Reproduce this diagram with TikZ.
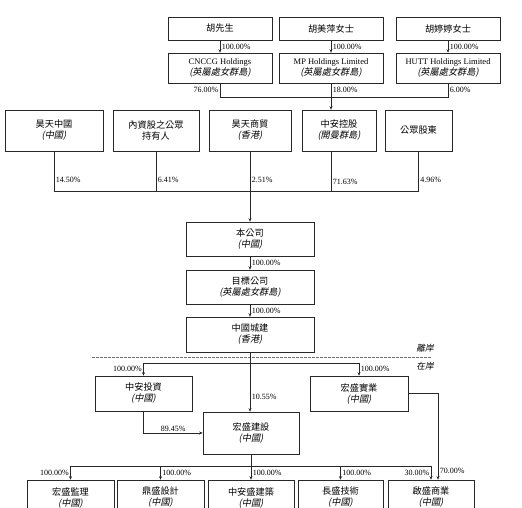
\documentclass[tikz,border=0pt]{standalone}
\usepackage{fontspec}
\setmainfont{Liberation Serif}
\newfontfamily\cjk[Scale=1.08]{Noto Sans CJK TC}
\newfontfamily\cjkit[Scale=1.08, FakeSlant=0.2]{Noto Sans CJK TC}
\usetikzlibrary{arrows.meta, positioning, calc}
\definecolor{mydark}{RGB}{40,40,40}
\definecolor{mygray}{RGB}{110,110,110}
\newcommand{\zh}[1]{{\cjk #1}}
\newcommand{\zhloc}[1]{{\cjkit (#1)}}
\tikzset{
  entity/.style={rectangle, draw=mydark, line width=0.6pt, inner sep=1pt,
    align=center, font=\fontsize{8.5}{11}\selectfont},
  toprow/.style={entity, minimum width=104, minimum height=23},
  holdrow/.style={entity, minimum width=104, minimum height=30},
  midbox/.style={entity, minimum height=41},
  mainbox/.style={entity, minimum width=128, minimum height=34},
  subbox/.style={entity, minimum height=35},
  pct/.style={font=\fontsize{8}{9}\selectfont, inner sep=1.5pt},
  side/.style={font=\cjkit\fontsize{8}{9}\selectfont, inner sep=0pt},
  link/.style={draw=mydark, line width=0.5pt},
  arrow/.style={link, -{Stealth[length=3.5pt, width=3pt]}}
}
\begin{document}
\begin{tikzpicture}[x=1pt, y=-1pt]
  \useasboundingbox (0,0) rectangle (522,507);
  \clip (0,0) rectangle (522,507);

  % Founders
  \node[toprow] (hu) at (220,28.5) {\zh{胡先生}};
  \node[toprow] (mei) at (331,28.5) {\zh{胡美萍女士}};
  \node[toprow] (ting) at (448,28.5) {\zh{胡婷婷女士}};

  % BVI holding companies
  \node[holdrow] (cnccg) at (220,68) {CNCCG Holdings\\\zhloc{英屬處女群島}};
  \node[holdrow] (mp) at (331,68) {MP Holdings Limited\\\zhloc{英屬處女群島}};
  \node[holdrow] (hutt) at (448,68) {HUTT Holdings Limited\\\zhloc{英屬處女群島}};

  \draw[arrow] (hu) -- node[pct, right] {100.00\%} (cnccg);
  \draw[arrow] (mei) -- node[pct, right] {100.00\%} (mp);
  \draw[arrow] (ting) -- node[pct, right] {100.00\%} (hutt);

  \coordinate (j1) at (331,97);
  \draw[link] (cnccg.south) -- node[pct, left] {76.00\%} (cnccg.south |- j1)
    -- (hutt.south |- j1) -- node[pct, right] {6.00\%} (hutt.south);
  \draw[link] (mp.south) -- node[pct, right] {18.00\%} (j1);

  % Shareholders of the company
  \node[midbox, minimum width=98] (htzg) at (54,130.5) {\zh{昊天中國}\\\zhloc{中國}};
  \node[midbox, minimum width=86] (nzg) at (156,130.5) {\zh{內資股之公眾}\\\zh{持有人}};
  \node[midbox, minimum width=82] (htsm) at (250,130.5) {\zh{昊天商貿}\\\zhloc{香港}};
  \node[midbox, minimum width=74] (zakg) at (339,130.5) {\zh{中安控股}\\\zhloc{開曼群島}};
  \node[midbox, minimum width=67] (gzgd) at (418.5,130.5) {\zh{公眾股東}};

  \draw[arrow] (j1) -- (zakg.north -| j1);

  \coordinate (bus) at (250,191);
  \draw[link] (htzg.south) -- node[pct, right, pos=0.72] {14.50\%} (htzg.south |- bus)
    -- (gzgd.south |- bus) -- node[pct, right, pos=0.28] {4.96\%} (gzgd.south);
  \draw[link] (nzg.south) -- node[pct, right, pos=0.72] {6.41\%} (nzg.south |- bus);
  \draw[link] (htsm.south) -- node[pct, right, pos=0.72] {2.51\%} (bus);
  \draw[link] (zakg.south -| j1) -- node[pct, right, pos=0.78] {71.63\%} (j1 |- bus);

  % Company and offshore chain
  \node[mainbox] (company) at (250,239) {\zh{本公司}\\\zhloc{中國}};
  \node[mainbox] (target) at (250,287) {\zh{目標公司}\\\zhloc{英屬處女群島}};
  \node[mainbox, minimum height=35] (cncc) at (250,334.5) {\zh{中國城建}\\\zhloc{香港}};

  \draw[arrow] (bus) -- (company);
  \draw[arrow] (company) -- node[pct, right] {100.00\%} (target);
  \draw[arrow] (target) -- node[pct, right] {100.00\%} (cncc);

  % Offshore / onshore boundary
  \draw[mygray, line width=0.6pt, dash pattern=on 3pt off 1pt] (92,357) -- (432,357);
  \node[side] (offshore) at (425,348.5) {離岸};
  \node[side] (onshore) at (425,366) {在岸};

  % Onshore companies
  \node[subbox, minimum width=97] (zatz) at (143.5,393.5) {\zh{中安投資}\\\zhloc{中國}};
  \node[subbox, minimum width=98] (hssy) at (359,393.5) {\zh{宏盛實業}\\\zhloc{中國}};
  \node[entity, minimum width=96, minimum height=42] (hsjs) at (251,433) {\zh{宏盛建設}\\\zhloc{中國}};

  \coordinate (split) at (250,363);
  \draw[link] (zatz.north |- split) -- (hssy.north |- split);
  \draw[arrow] (zatz.north |- split) -- node[pct, left] {100.00\%} (zatz.north);
  \draw[arrow] (hssy.north |- split) -- node[pct, right] {100.00\%} (hssy.north);
  \draw[arrow] (cncc.south) -- node[pct, right, pos=0.75] {10.55\%} (cncc.south |- hsjs.north);
  \draw[arrow] (zatz.south) |- node[pct, above, pos=0.75] {89.45\%} (hsjs.west);

  % Subsidiaries of Hongsheng Construction
  \node[subbox, minimum width=87] (hsjl) at (70.5,497.5) {\zh{宏盛監理}\\\zhloc{中國}};
  \node[subbox, minimum width=87] (dssj) at (160.5,497.5) {\zh{鼎盛設計}\\\zhloc{中國}};
  \node[subbox, minimum width=86] (zasjz) at (251,497.5) {\zh{中安盛建築}\\\zhloc{中國}};
  \node[subbox, minimum width=85] (csjs) at (340.5,497.5) {\zh{長盛技術}\\\zhloc{中國}};
  \node[subbox, minimum width=86] (qssy) at (431,497.5) {\zh{啟盛商業}\\\zhloc{中國}};

  \coordinate (bus2) at (251,466);
  \draw[link] (hsjs.south) -- (bus2);
  \draw[link] (hsjl.north |- bus2) -- (qssy.north |- bus2);
  \draw[arrow] (hsjl.north |- bus2) -- node[pct, left] {100.00\%} (hsjl.north);
  \draw[arrow] (dssj.north |- bus2) -- node[pct, right] {100.00\%} (dssj.north);
  \draw[arrow] (bus2) -- node[pct, right] {100.00\%} (zasjz.north);
  \draw[arrow] (csjs.north |- bus2) -- node[pct, right] {100.00\%} (csjs.north);
  \draw[arrow] (qssy.north |- bus2) -- node[pct, left] {30.00\%} (qssy.north);
  \draw[arrow] (hssy.east) -| node[pct, right, pos=0.95] {70.00\%} ([xshift=7pt]qssy.north);
\end{tikzpicture}
\end{document}
